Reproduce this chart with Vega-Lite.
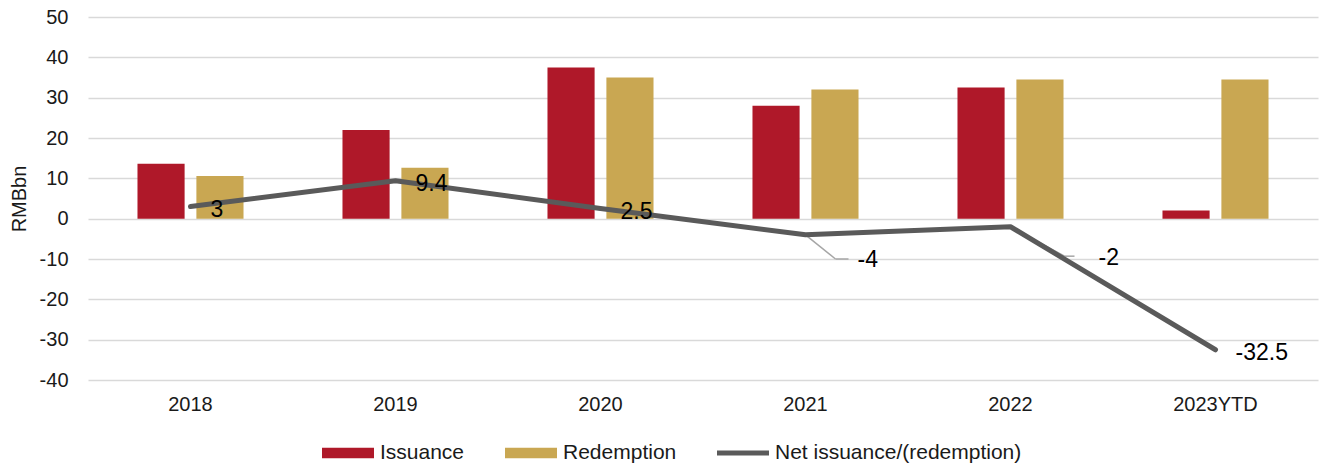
{
  "$schema": "https://vega.github.io/schema/vega-lite/v6.json",
  "width": 1230,
  "height": 363,
  "autosize": "none",
  "padding": {"left": 88, "top": 17, "right": 2, "bottom": 89},
  "config": {
    "font": "Liberation Sans",
    "view": {"stroke": null},
    "axis": {"labelFont": "Liberation Sans", "labelFontSize": 20, "labelColor": "#1a1a1a", "domain": false, "ticks": false}
  },
  "datasets": {
    "bars": [
      {"year": "2018", "series": "Issuance", "value": 13.6},
      {"year": "2018", "series": "Redemption", "value": 10.6},
      {"year": "2019", "series": "Issuance", "value": 22.0},
      {"year": "2019", "series": "Redemption", "value": 12.6},
      {"year": "2020", "series": "Issuance", "value": 37.5},
      {"year": "2020", "series": "Redemption", "value": 35.0},
      {"year": "2021", "series": "Issuance", "value": 28.0},
      {"year": "2021", "series": "Redemption", "value": 32.0},
      {"year": "2022", "series": "Issuance", "value": 32.5},
      {"year": "2022", "series": "Redemption", "value": 34.5},
      {"year": "2023YTD", "series": "Issuance", "value": 2.0},
      {"year": "2023YTD", "series": "Redemption", "value": 34.5}
    ],
    "net": [
      {"year": "2018", "net": 3},
      {"year": "2019", "net": 9.4},
      {"year": "2020", "net": 2.5},
      {"year": "2021", "net": -4},
      {"year": "2022", "net": -2},
      {"year": "2023YTD", "net": -32.5}
    ]
  },
  "layer": [
    {
      "data": {"name": "bars"},
      "mark": {"type": "bar"},
      "encoding": {
        "x": {
          "field": "year", "type": "nominal", "sort": null,
          "scale": {"paddingInner": 0, "paddingOuter": 0},
          "axis": {"title": null, "labelAngle": 0, "labelPadding": 14, "grid": false}
        },
        "xOffset": {
          "field": "series", "type": "nominal", "sort": ["Issuance", "Redemption"],
          "scale": {"paddingInner": 0.2, "paddingOuter": 0.84}
        },
        "y": {
          "field": "value", "type": "quantitative",
          "scale": {"domain": [-40, 50], "nice": false},
          "axis": {
            "title": "RMBbn", "titleFontSize": 20, "titleFontWeight": "normal", "titleColor": "#1a1a1a",
            "titleFont": "Liberation Sans", "titlePadding": 10,
            "values": [-40, -30, -20, -10, 0, 10, 20, 30, 40, 50],
            "labelExpr": "'' + datum.value",
            "labelPadding": 20, "grid": true, "gridColor": "#D9D9D9", "gridWidth": 1.5
          }
        },
        "color": {
          "field": "series", "type": "nominal",
          "scale": {"domain": ["Issuance", "Redemption", "Net issuance/(redemption)"], "range": ["#AF1829", "#C9A752", "#5A5A5A"]},
          "legend": {
            "title": null, "orient": "none", "direction": "horizontal",
            "legendX": 234, "legendY": 410,
            "labelFontSize": 21, "labelColor": "#1a1a1a", "labelFont": "Liberation Sans", "labelLimit": 0,
            "symbolSize": 2704, "symbolType": "M-1,-0.2H1V0.2H-1Z",
            "labelOffset": 6, "columnPadding": 40,
            "encode": {
              "symbols": {
                "update": {
                  "shape": {"signal": "datum.value === 'Net issuance/(redemption)' ? 'M-1,-0.1H1V0.1H-1Z' : 'M-1,-0.2H1V0.2H-1Z'"},
                  "fill": {"scale": "color", "field": "value"},
                  "fillOpacity": {"value": 1},
                  "strokeWidth": {"value": 0}
                }
              }
            }
          }
        }
      }
    },
    {
      "data": {"name": "net"},
      "transform": [{"filter": "datum.year === '2021'"}],
      "mark": {"type": "rule", "color": "#A6A6A6", "strokeWidth": 1.5, "x2Offset": 30},
      "encoding": {
        "x": {"field": "year", "type": "nominal", "sort": null},
        "x2": {"field": "year"},
        "y": {"field": "net", "type": "quantitative"},
        "y2": {"datum": -10}
      }
    },
    {
      "data": {"name": "net"},
      "transform": [{"filter": "datum.year === '2021'"}],
      "mark": {"type": "rule", "color": "#A6A6A6", "strokeWidth": 1.5, "xOffset": 30, "x2Offset": 43},
      "encoding": {
        "x": {"field": "year", "type": "nominal", "sort": null},
        "x2": {"field": "year"},
        "y": {"datum": -10}
      }
    },
    {
      "data": {"name": "net"},
      "transform": [{"filter": "datum.year === '2022'"}],
      "mark": {"type": "rule", "color": "#A6A6A6", "strokeWidth": 1.5, "x2Offset": 54},
      "encoding": {
        "x": {"field": "year", "type": "nominal", "sort": null},
        "x2": {"field": "year"},
        "y": {"field": "net", "type": "quantitative"},
        "y2": {"datum": -9.3}
      }
    },
    {
      "data": {"name": "net"},
      "transform": [{"filter": "datum.year === '2022'"}],
      "mark": {"type": "rule", "color": "#A6A6A6", "strokeWidth": 1.5, "xOffset": 54, "x2Offset": 64},
      "encoding": {
        "x": {"field": "year", "type": "nominal", "sort": null},
        "x2": {"field": "year"},
        "y": {"datum": -9.3}
      }
    },
    {
      "data": {"name": "net"},
      "mark": {"type": "line", "strokeWidth": 5, "strokeCap": "round", "strokeJoin": "round"},
      "encoding": {
        "x": {"field": "year", "type": "nominal", "sort": null},
        "y": {"field": "net", "type": "quantitative"},
        "color": {"datum": "Net issuance/(redemption)"}
      }
    },
    {
      "data": {"name": "net"},
      "transform": [{"filter": "datum.year !== '2021' && datum.year !== '2022'"}],
      "mark": {"type": "text", "align": "left", "baseline": "middle", "dx": 20, "dy": 3, "fontSize": 23, "color": "#000000", "font": "Liberation Sans"},
      "encoding": {
        "x": {"field": "year", "type": "nominal", "sort": null},
        "y": {"field": "net", "type": "quantitative"},
        "text": {"field": "net", "type": "nominal"}
      }
    },
    {
      "data": {"name": "net"},
      "transform": [{"filter": "datum.year === '2021'"}],
      "mark": {"type": "text", "align": "left", "baseline": "middle", "dx": 52, "dy": 25, "fontSize": 23, "color": "#000000", "font": "Liberation Sans"},
      "encoding": {
        "x": {"field": "year", "type": "nominal", "sort": null},
        "y": {"field": "net", "type": "quantitative"},
        "text": {"field": "net", "type": "nominal"}
      }
    },
    {
      "data": {"name": "net"},
      "transform": [{"filter": "datum.year === '2022'"}],
      "mark": {"type": "text", "align": "left", "baseline": "middle", "dx": 88, "dy": 31, "fontSize": 23, "color": "#000000", "font": "Liberation Sans"},
      "encoding": {
        "x": {"field": "year", "type": "nominal", "sort": null},
        "y": {"field": "net", "type": "quantitative"},
        "text": {"field": "net", "type": "nominal"}
      }
    }
  ]
}
